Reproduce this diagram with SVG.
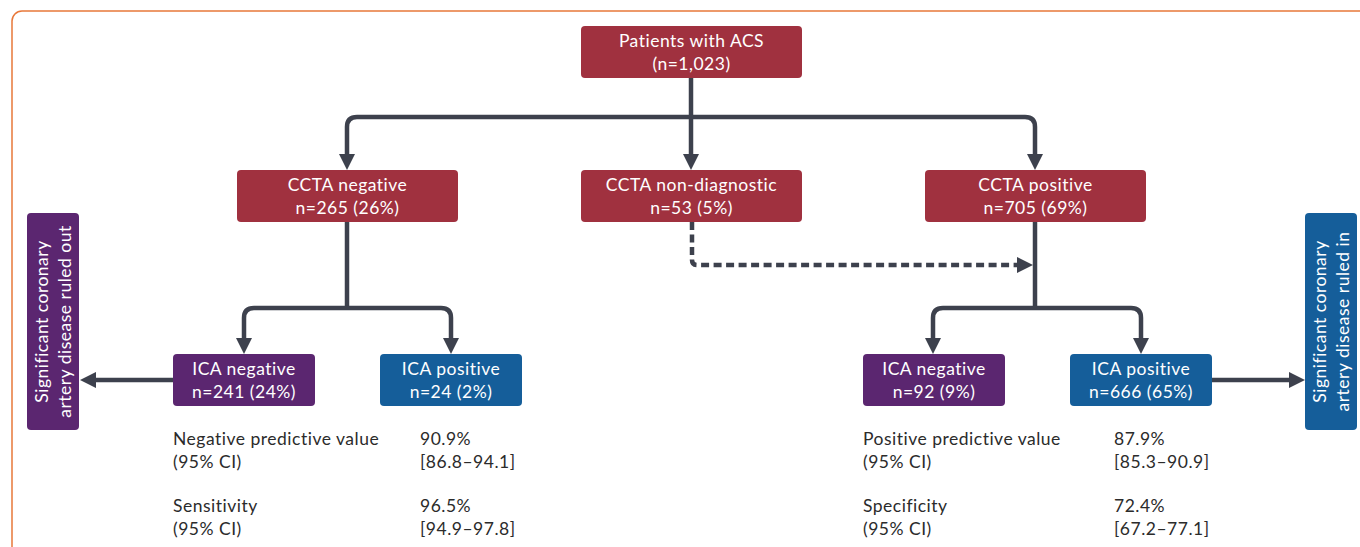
<svg xmlns="http://www.w3.org/2000/svg" width="1360" height="547" viewBox="0 0 1360 547">
<defs>
<marker id="ah" viewBox="0 0 10 10" refX="3" refY="5" markerWidth="3.6" markerHeight="3.6" markerUnits="strokeWidth" orient="auto">
<path d="M0,0 L10,5 L0,10 Z" fill="#3d414d"/>
</marker>
<style>
.red{fill:#a0313f}
.pur{fill:#5b2670}
.blu{fill:#155e9a}
.bt{font-family:Lato,"Open Sans",sans-serif;font-size:17.5px;letter-spacing:0.5px;fill:#fff;text-anchor:middle}
.st{font-family:Lato,"Open Sans",sans-serif;font-size:17.5px;letter-spacing:0.5px;fill:#2b2b2b}
.cn{fill:none;stroke:#3d414d;stroke-width:4.5;stroke-linejoin:round}
.ds{stroke-dasharray:8,4.5}
</style>
</defs>
<rect x="12" y="11" width="1370" height="560" rx="10" fill="#fff" stroke="#e8783a" stroke-width="1.5"/>
<g id="connectors">
<path class="cn" d="M691,78 V117"/>
<path class="cn" d="M691,117 H357 Q347,117 347,127 V158.7" marker-end="url(#ah)"/>
<path class="cn" d="M691,117 V158.7" marker-end="url(#ah)"/>
<path class="cn" d="M691,117 H1025 Q1035,117 1035,127 V158.7" marker-end="url(#ah)"/>
<path class="cn" d="M347,222 V308"/>
<path class="cn" d="M347,308 H254 Q244,308 244,318 V342.7" marker-end="url(#ah)"/>
<path class="cn" d="M347,308 H441 Q451,308 451,318 V342.7" marker-end="url(#ah)"/>
<path class="cn" d="M173,380 H91.3" marker-end="url(#ah)"/>
<path class="cn ds" d="M692,222 V260 Q692,265 697,265 H1021.7" marker-end="url(#ah)"/>
<path class="cn" d="M1035,222 V308"/>
<path class="cn" d="M1035,308 H943 Q933,308 933,318 V342.7" marker-end="url(#ah)"/>
<path class="cn" d="M1035,308 H1131 Q1141,308 1141,318 V342.7" marker-end="url(#ah)"/>
<path class="cn" d="M1212,380 H1293.7" marker-end="url(#ah)"/>
</g>
<g id="patients"><rect class="red" x="581" y="26" width="221" height="52" rx="4"/><text class="bt" x="691.5" y="47">Patients with ACS</text><text class="bt" x="691.5" y="70">(n=1,023)</text></g>
<g id="ccta-neg"><rect class="red" x="237" y="170" width="221" height="52" rx="4"/><text class="bt" x="347.5" y="191">CCTA negative</text><text class="bt" x="347.5" y="214">n=265 (26%)</text></g>
<g id="ccta-nd"><rect class="red" x="581" y="170" width="221" height="52" rx="4"/><text class="bt" x="691.5" y="191">CCTA non-diagnostic</text><text class="bt" x="691.5" y="214">n=53 (5%)</text></g>
<g id="ccta-pos"><rect class="red" x="925" y="170" width="221" height="52" rx="4"/><text class="bt" x="1035.5" y="191">CCTA positive</text><text class="bt" x="1035.5" y="214">n=705 (69%)</text></g>
<g id="ica-neg-l"><rect class="pur" x="173" y="354" width="142" height="52" rx="4"/><text class="bt" x="244" y="375">ICA negative</text><text class="bt" x="244" y="398">n=241 (24%)</text></g>
<g id="ica-pos-l"><rect class="blu" x="380" y="354" width="142" height="52" rx="4"/><text class="bt" x="451" y="375">ICA positive</text><text class="bt" x="451" y="398">n=24 (2%)</text></g>
<g id="ica-neg-r"><rect class="pur" x="863" y="354" width="142" height="52" rx="4"/><text class="bt" x="934" y="375">ICA negative</text><text class="bt" x="934" y="398">n=92 (9%)</text></g>
<g id="ica-pos-r"><rect class="blu" x="1070" y="354" width="142" height="52" rx="4"/><text class="bt" x="1141" y="375">ICA positive</text><text class="bt" x="1141" y="398">n=666 (65%)</text></g>
<g id="ruled-out"><rect class="pur" x="27" y="213" width="52" height="217" rx="4"/><text class="bt" transform="translate(53,321.5) rotate(-90)"><tspan x="0" y="-5">Significant coronary</tspan><tspan x="0" y="18">artery disease ruled out</tspan></text></g>
<g id="ruled-in"><rect class="blu" x="1305" y="213" width="52" height="217" rx="4"/><text class="bt" transform="translate(1331,321.5) rotate(-90)"><tspan x="0" y="-5">Significant coronary</tspan><tspan x="0" y="18">artery disease ruled in</tspan></text></g>
<g id="stats-left">
<text class="st" x="173" y="445">Negative predictive value</text><text class="st" x="173" y="468">(95% CI)</text>
<text class="st" x="420" y="445">90.9%</text><text class="st" x="420" y="468">[86.8–94.1]</text>
<text class="st" x="173" y="512">Sensitivity</text><text class="st" x="173" y="535">(95% CI)</text>
<text class="st" x="420" y="512">96.5%</text><text class="st" x="420" y="535">[94.9–97.8]</text>
</g>
<g id="stats-right">
<text class="st" x="863" y="445">Positive predictive value</text><text class="st" x="863" y="468">(95% CI)</text>
<text class="st" x="1114" y="445">87.9%</text><text class="st" x="1114" y="468">[85.3–90.9]</text>
<text class="st" x="863" y="512">Specificity</text><text class="st" x="863" y="535">(95% CI)</text>
<text class="st" x="1114" y="512">72.4%</text><text class="st" x="1114" y="535">[67.2–77.1]</text>
</g>
</svg>
